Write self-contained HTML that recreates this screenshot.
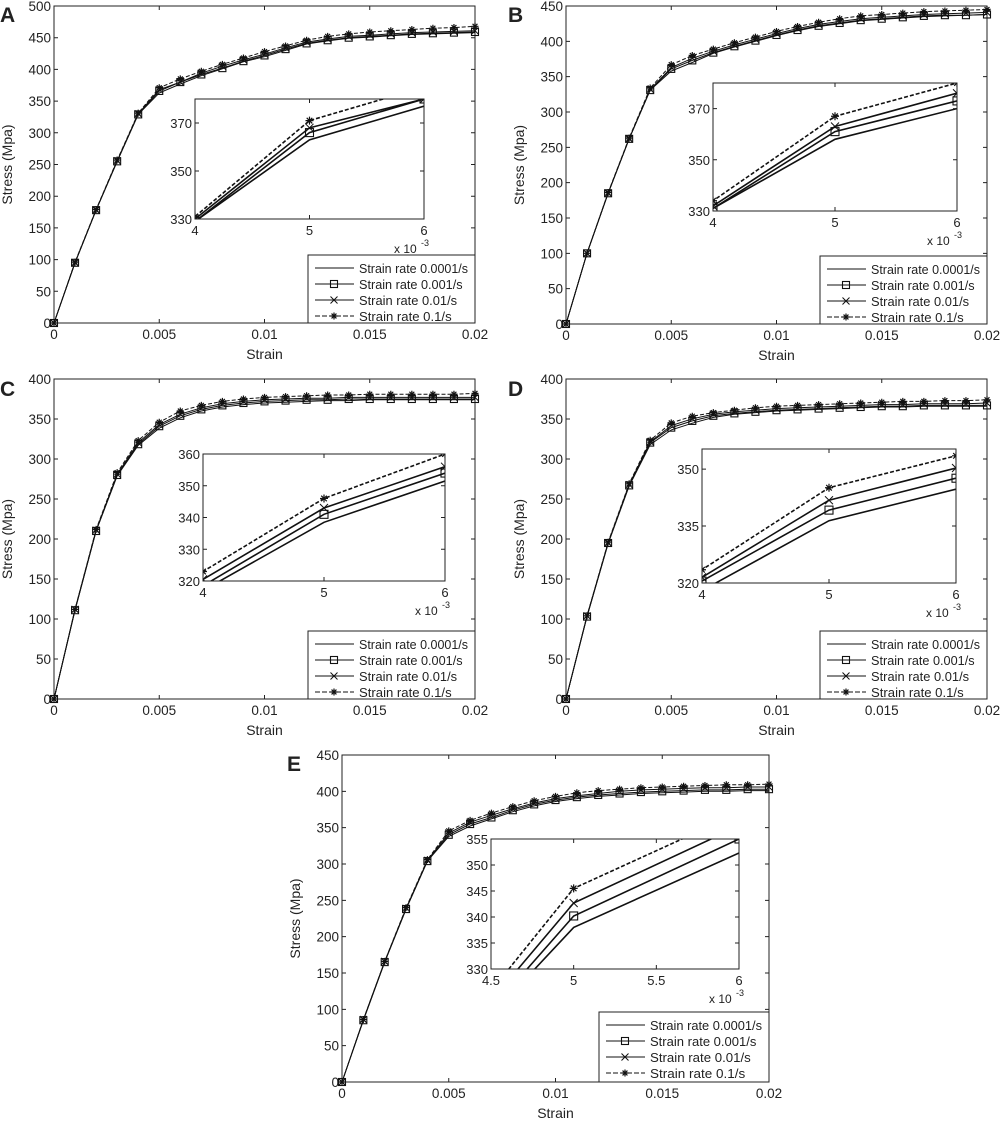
<!DOCTYPE html>
<html><head><meta charset="utf-8">
<style>
html,body{margin:0;padding:0;background:#fff;width:1000px;height:1122px;overflow:hidden;}
svg{display:block;font-family:"Liberation Sans",Arial,sans-serif;}
text{fill:#222;}
</style></head>
<body>
<svg id="fig" width="1000" height="1122" viewBox="0 0 1000 1122" xmlns="http://www.w3.org/2000/svg"></svg>
<script>
// Shared strain values (x) for main plots
const strain = [0,0.001,0.002,0.003,0.004,0.005,0.006,0.007,0.008,0.009,0.010,0.011,0.012,0.013,0.014,0.015,0.016,0.017,0.018,0.019,0.020];
const seriesNames = ["Strain rate 0.0001/s","Strain rate 0.001/s","Strain rate 0.01/s","Strain rate 0.1/s"];
// Panel A
const A_r1 = [0,95,178,255,329,363,377,390,401,412,420,430,440,445,449,451,453,455,456,457,458];
const A_r2 = [0,95,178,255,329,366,380,392,402,413,422,432,441,446,450,452,454,456,457,458,459];
const A_r3 = [0,95,178,256,330,368,380,394,405,415,424,434,443,448,452,454,456,458,459,460,461];
const A_r4 = [0,96,179,257,331,371,385,397,408,418,428,437,446,452,456,459,461,463,465,466,468];
// Panel B
const B_r1 = [0,100,185,262,331,358,370,383,392,400,408,415,421,425,429,431,433,435,436,437,438];
const B_r2 = [0,100,185,262,331,361,373,384,393,401,409,416,422,426,430,432,434,436,437,437,438];
const B_r3 = [0,100,185,262,332,363,376,386,395,403,411,418,424,428,432,434,436,438,439,440,441];
const B_r4 = [0,100,186,263,334,367,380,389,398,406,414,421,427,432,436,438,440,442,443,444,445];
// Panel C
const C_r1 = [0,111,210,279,317,338.5,351.5,360,365,368,370,371,372,373,373,374,374,374,374,374,374];
const C_r2 = [0,111,210,280,318.5,341,354,362,367,370,372,373,374,374,375,375,375,375,375,375,375];
const C_r3 = [0,112,211,281,320.5,343,356,364,369,372,374,375,376,376,377,377,377,377,377,377,377];
const C_r4 = [0,112,212,283,323,346,360,367,372,375,377,378,379,380,380,381,381,381,381,381,382];
// Panel D
const D_r1 = [0,103,194,266,318,336.4,344.7,352,356,358,360,361,362,363,364,365,365,366,366,366,366];
const D_r2 = [0,103,195,267,320.5,339.2,347.6,354,357,359,361,362,363,364,365,366,366,367,367,367,367];
const D_r3 = [0,104,195,268,321.5,341.8,350.3,356,359,361,363,364,365,366,367,368,368,369,369,369,370];
const D_r4 = [0,104,196,269,323.5,345.1,353.5,358,361,364,366,367,368,369,370,371,372,372,373,373,374];
// Panel E
const E_r1 = [0,85,165,238,304,338,352.3,362,372,380,386,390,393,395,397,398,399,400,400,401,401];
const E_r2 = [0,85,165,238,304,340.2,355,364,374,382,388,392,395,397,399,400,401,402,402,403,403];
const E_r3 = [0,86,166,239,305,342.7,357.5,367,376,384,390,394,397,400,402,403,404,405,405,406,406];
const E_r4 = [0,86,166,240,306,345.5,360,370,379,387,393,398,401,403,405,406,407,408,409,409,410];
// Tick labels
const mainXTicks = [0,0.005,0.01,0.015,0.02];
const mainXLabels = ["0","0.005","0.01","0.015","0.02"];
const A_yTicks=[0,50,100,150,200,250,300,350,400,450,500];
const B_yTicks=[0,50,100,150,200,250,300,350,400,450];
const C_yTicks=[0,50,100,150,200,250,300,350,400];
const D_yTicks=[0,50,100,150,200,250,300,350,400];
const E_yTicks=[0,50,100,150,200,250,300,350,400,450];
const A_inYTicks=[330,350,370];
const B_inYTicks=[330,350,370];
const C_inYTicks=[320,330,340,350,360];
const D_inYTicks=[320,335,350];
const E_inYTicks=[330,335,340,345,350,355];
const inXTicks=[4,5,6];
const E_inXTicks=[4.5,5,5.5,6];

const NS="http://www.w3.org/2000/svg";
const svg=document.getElementById('fig');
function mk(tag,attrs,parent){const e=document.createElementNS(NS,tag);for(const k in attrs)e.setAttribute(k,attrs[k]);(parent||svg).appendChild(e);return e;}

const panels=[
 {id:"a",letter:"A",data:[A_r1,A_r2,A_r3,A_r4],yT:A_yTicks,ymax:500,box:[54,6,475,323],lp:[0,6],
  inset:{box:[195,99,424,219],x:[4,6],y:[330,380],yT:A_inYTicks,xT:inXTicks},legend:[308,255]},
 {id:"b",letter:"B",data:[B_r1,B_r2,B_r3,B_r4],yT:B_yTicks,ymax:450,box:[566,6,987,324],lp:[508,6],
  inset:{box:[713,83,957,211],x:[4,6],y:[330,380],yT:B_inYTicks,xT:inXTicks},legend:[820,256]},
 {id:"c",letter:"C",data:[C_r1,C_r2,C_r3,C_r4],yT:C_yTicks,ymax:400,box:[54,379,475,699],lp:[0,380],
  inset:{box:[203,454,445,581],x:[4,6],y:[320,360],yT:C_inYTicks,xT:inXTicks},legend:[308,631]},
 {id:"d",letter:"D",data:[D_r1,D_r2,D_r3,D_r4],yT:D_yTicks,ymax:400,box:[566,379,987,699],lp:[508,380],
  inset:{box:[702,449,956,583],x:[4,6],y:[320,355.3],yT:D_inYTicks,xT:inXTicks},legend:[820,631]},
 {id:"e",letter:"E",data:[E_r1,E_r2,E_r3,E_r4],yT:E_yTicks,ymax:450,box:[342,755,769,1082],lp:[287,755],
  inset:{box:[491,839,739,969],x:[4.5,6],y:[330,355],yT:E_inYTicks,xT:E_inXTicks},legend:[599,1012]}
];

function marker(g,k,x,y,s){
  if(k===1){const r=mk('rect',{x:x-s,y:y-s,width:2*s,height:2*s,fill:'none',stroke:'#111','stroke-width':1.1},g);
    }
  else if(k===2){const p=mk('path',{d:`M${x-s} ${y-s}L${x+s} ${y+s}M${x-s} ${y+s}L${x+s} ${y-s}`,stroke:'#111','stroke-width':1},g);
    }
  else if(k===3){const p=mk('path',{d:`M${x-s} ${y}L${x+s} ${y}M${x} ${y-s}L${x} ${y+s}M${x-s*.7} ${y-s*.7}L${x+s*.7} ${y+s*.7}M${x-s*.7} ${y+s*.7}L${x+s*.7} ${y-s*.7}`,stroke:'#111','stroke-width':1.2},g);
    }
}
function drawSeries(g,xs,ys,sx,sy,k,ms,lw){
  let d='';xs.forEach((x,i)=>{d+=(i?'L':'M')+sx(x).toFixed(1)+' '+sy(ys[i]).toFixed(1);});
  const p=mk('path',{d:d,fill:'none',stroke:'#111','stroke-width':lw,'stroke-dasharray':k===3?'4 2':'none'},g);
  
  if(k>0)xs.forEach((x,i)=>marker(g,k,sx(x),sy(ys[i]),ms));
}

panels.forEach(P=>{
  const g=mk('g',{});
  
  const [x0,y0,x1,y1]=P.box;
  const sx=v=>x0+(v/0.02)*(x1-x0), sy=v=>y1-(v/P.ymax)*(y1-y0);
  const lt=mk('text',{x:P.lp[0],y:P.lp[1]+16,'font-size':21,'font-weight':'bold',fill:'#000'},g);lt.textContent=P.letter;
  
  const frame=mk('rect',{x:x0,y:y0,width:x1-x0,height:y1-y0,fill:'#fff',stroke:'#222','stroke-width':1},g);
  
  P.yT.forEach(v=>{const y=sy(v);
    mk('path',{d:`M${x0} ${y}h4M${x1} ${y}h-4`,stroke:'#222'},g);
    const t=mk('text',{x:x0-3,y:y+5,'font-size':13.5,'text-anchor':'end'},g);t.textContent=v;
    });
  mainXTicks.forEach((v,i)=>{const x=sx(v);
    mk('path',{d:`M${x} ${y1}v-4M${x} ${y0}v4`,stroke:'#222'},g);
    const t=mk('text',{x:x,y:y1+16,'font-size':13.5,'text-anchor':'middle'},g);t.textContent=mainXLabels[i];
    });
  const xl=mk('text',{x:(x0+x1)/2,y:y1+36,'font-size':14,'text-anchor':'middle'},g);xl.textContent='Strain';
  
  const yl=mk('text',{x:0,y:0,'font-size':14,'text-anchor':'middle',transform:`translate(${x0-42},${(y0+y1)/2}) rotate(-90)`},g);yl.textContent='Stress (Mpa)';
  
  P.data.forEach((ys,k)=>drawSeries(g,strain,ys,sx,sy,k,3.5,1));
  // inset
  const I=P.inset,[ix0,iy0,ix1,iy1]=I.box;
  const ig=mk('g',{},g);
  mk('rect',{x:ix0,y:iy0,width:ix1-ix0,height:iy1-iy0,fill:'#fff',stroke:'none'},ig);
  const isx=v=>ix0+((v*1000-I.x[0])/(I.x[1]-I.x[0]))*(ix1-ix0), isy=v=>iy1-((v-I.y[0])/(I.y[1]-I.y[0]))*(iy1-iy0);
  const cp=mk('clipPath',{id:'clip'+P.id},ig);mk('rect',{x:ix0-5,y:iy0-5,width:ix1-ix0+10,height:iy1-iy0+5},cp);
  const cp2=mk('clipPath',{id:'clipl'+P.id},ig);mk('rect',{x:ix0,y:iy0,width:ix1-ix0,height:iy1-iy0},cp2);
  const cg=mk('g',{'clip-path':`url(#clipl${P.id})`},ig);
  P.data.forEach((ys,k)=>drawSeries(cg,strain,ys,isx,isy,k,4,1.6));
  const ifr=mk('rect',{x:ix0,y:iy0,width:ix1-ix0,height:iy1-iy0,fill:'none',stroke:'#222'},ig);
  
  I.yT.forEach(v=>{const y=isy(v);mk('path',{d:`M${ix0} ${y}h4M${ix1} ${y}h-4`,stroke:'#222'},ig);
    const t=mk('text',{x:ix0-3,y:y+5,'font-size':13,'text-anchor':'end'},ig);t.textContent=v;
    });
  I.xT.forEach(v=>{const x=isx(v/1000);mk('path',{d:`M${x} ${iy1}v-4M${x} ${iy0}v4`,stroke:'#222'},ig);
    const t=mk('text',{x:x,y:iy1+16,'font-size':13,'text-anchor':'middle'},ig);t.textContent=v;
    });
  const ex=mk('text',{x:ix1-30,y:iy1+34,'font-size':12},ig);ex.textContent='x 10';
  
  const ex2=mk('text',{x:ix1-3,y:iy1+27,'font-size':9},ig);ex2.textContent='-3';
  
  // legend
  const [lx,ly]=P.legend;
  const lg=mk('g',{},g);
  mk('rect',{x:lx,y:ly,width:x1-lx,height:y1-ly,fill:'#fff',stroke:'#222'},lg);
  seriesNames.forEach((n,k)=>{const yy=ly+13+k*16;
    const e=mk('g',{},lg);
    mk('path',{d:`M${lx+7} ${yy}h39`,stroke:'#111','stroke-width':1,'stroke-dasharray':k===3?'5 2':'none'},e);
    if(k>0)marker(e,k,lx+26,yy,3.5);
    const t=mk('text',{x:lx+51,y:yy+5,'font-size':13,textLength:(x1-lx-58)*(n.length/20),lengthAdjust:'spacingAndGlyphs'},e);t.textContent=n;});
});
</script>
</body></html>
